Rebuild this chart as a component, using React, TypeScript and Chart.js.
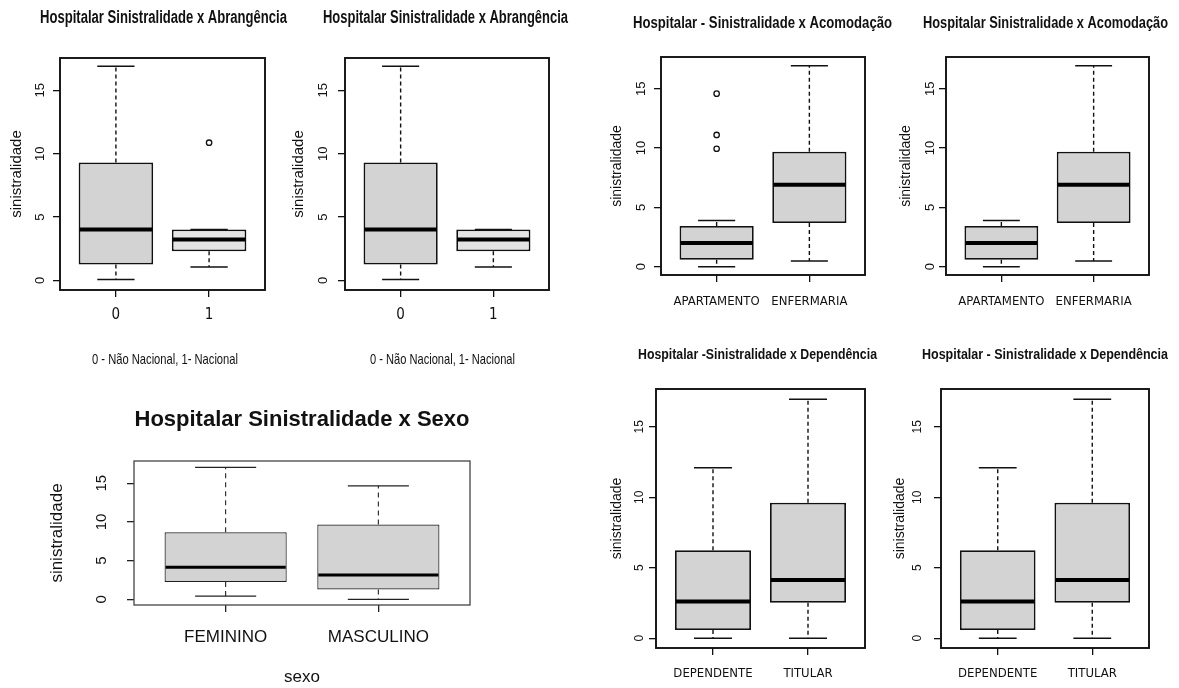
import React, { useEffect, useRef } from "react";
import { Chart, registerables } from "chart.js";

Chart.register(...registerables);

// ---------------- data ----------------
const yTickValues = [0, 5, 10, 15];

const abrangCats = ["0", "1"];
const abrangLow = [0.08, 1.07];
const abrangQ1 = [1.26, 2.31];
const abrangMedian = [4.03, 3.24];
const abrangQ3 = [9.31, 4.03];
const abrangHigh = [16.89, 4.03];
const abrangOutliers = [[], [10.87]];

const acomodCats = ["APARTAMENTO", "ENFERMARIA"];
const acomodLow = [0, 0.48];
const acomodQ1 = [0.59, 3.68];
const acomodMedian = [2.0, 6.91];
const acomodQ3 = [3.43, 9.69];
const acomodHigh = [3.9, 16.94];
const acomodOutliers = [[14.58, 11.1, 9.94], []];

const sexoCats = ["FEMININO", "MASCULINO"];
const sexoLow = [0.43, 0];
const sexoQ1 = [2.24, 1.29];
const sexoMedian = [4.14, 3.14];
const sexoQ3 = [8.67, 9.66];
const sexoHigh = [17.05, 14.66];
const sexoOutliers = [[], []];

const dependCats = ["DEPENDENTE", "TITULAR"];
const dependLow = [0, 0];
const dependQ1 = [0.59, 2.52];
const dependMedian = [2.6, 4.13];
const dependQ3 = [6.24, 9.62];
const dependHigh = [12.1, 16.95];
const dependOutliers = [[], []];

// ---------------- types / styles ----------------
type Stats = {
  cats: string[];
  low: number[];
  q1: number[];
  median: number[];
  q3: number[];
  high: number[];
  outliers: number[][];
};

type FontCfg = { family: string; size: number; weight?: string };

interface PanelCfg {
  canvas: { left: number; top: number; width: number; height: number };
  plot: { left: number; top: number; right: number; bottom: number };
  yRange: [number, number];
  stats: Stats;
  showOutliers: boolean;
  title: string;
  titleFont: FontCfg;
  titleY: number;
  titleCx?: number;
  titleW?: number;
  yTitle: string;
  yTitleFont: FontCfg;
  yTitleX: number;
  yTickFont: FontCfg;
  yTickX: number;
  xTickFont: FontCfg;
  xTickY: number;
  xTitle?: string;
  xTitleFont: FontCfg;
  xTitleY: number;
  xTitleCx?: number;
  xTitleW?: number;
  fills: string[];
  lineColor: string;
  boxLineWidth: number;
  medianWidth: number;
  whiskerWidth: number;
  frameWidth: number;
  frameColor: string;
  dash: number[];
}

const COND = "'DejaVu Sans Condensed', 'Liberation Sans Narrow', 'Arial Narrow', sans-serif";
const SANS = "'Liberation Sans', Arial, sans-serif";

const abrangStats: Stats = { cats: abrangCats, low: abrangLow, q1: abrangQ1, median: abrangMedian, q3: abrangQ3, high: abrangHigh, outliers: abrangOutliers };
const acomodStats: Stats = { cats: acomodCats, low: acomodLow, q1: acomodQ1, median: acomodMedian, q3: acomodQ3, high: acomodHigh, outliers: acomodOutliers };
const sexoStats: Stats = { cats: sexoCats, low: sexoLow, q1: sexoQ1, median: sexoMedian, q3: sexoQ3, high: sexoHigh, outliers: sexoOutliers };
const dependStats: Stats = { cats: dependCats, low: dependLow, q1: dependQ1, median: dependMedian, q3: dependQ3, high: dependHigh, outliers: dependOutliers };

const topStyle = {
  lineColor: "#111",
  boxLineWidth: 1.8,
  medianWidth: 4,
  whiskerWidth: 1.4,
  frameWidth: 1.9,
  frameColor: "#111",
  dash: [4, 3],
};

const panels: PanelCfg[] = [
  {
    ...topStyle,
    canvas: { left: 0, top: 0, width: 292, height: 380 },
    plot: { left: 60, top: 58, right: 265, bottom: 290 },
    yRange: [-0.75, 17.55],
    stats: abrangStats,
    showOutliers: true,
    title: "Hospitalar Sinistralidade x Abrangência",
    titleFont: { family: SANS, size: 18, weight: "bold" },
    titleY: 18,
    titleCx: 163.5,
    titleW: 247,
    yTitle: "sinistralidade",
    yTitleFont: { family: SANS, size: 15 },
    yTitleX: 16.5,
    yTickFont: { family: SANS, size: 13 },
    yTickX: 40,
    xTickFont: { family: COND, size: 15 },
    xTickY: 315,
    xTitle: "0 - Não Nacional, 1- Nacional",
    xTitleFont: { family: SANS, size: 15 },
    xTitleY: 360,
    xTitleCx: 165,
    xTitleW: 146,
    fills: ["#d3d3d3", "#e4e4e4"],
  },
  {
    ...topStyle,
    canvas: { left: 285, top: 0, width: 295, height: 380 },
    plot: { left: 345, top: 58, right: 549, bottom: 290 },
    yRange: [-0.75, 17.55],
    stats: abrangStats,
    showOutliers: false,
    title: "Hospitalar Sinistralidade x Abrangência",
    titleFont: { family: SANS, size: 18, weight: "bold" },
    titleY: 18,
    titleCx: 445.5,
    titleW: 245,
    yTitle: "sinistralidade",
    yTitleFont: { family: SANS, size: 15 },
    yTitleX: 299,
    yTickFont: { family: SANS, size: 13 },
    yTickX: 323,
    xTickFont: { family: COND, size: 15 },
    xTickY: 315,
    xTitle: "0 - Não Nacional, 1- Nacional",
    xTitleFont: { family: SANS, size: 15 },
    xTitleY: 360,
    xTitleCx: 442.5,
    xTitleW: 145,
    fills: ["#d3d3d3", "#e4e4e4"],
  },
  {
    ...topStyle,
    canvas: { left: 590, top: 0, width: 310, height: 325 },
    plot: { left: 661, top: 57, right: 865, bottom: 275 },
    yRange: [-0.7, 17.67],
    stats: acomodStats,
    showOutliers: true,
    title: "Hospitalar - Sinistralidade x Acomodação",
    titleFont: { family: SANS, size: 16, weight: "bold" },
    titleY: 24,
    titleCx: 762.5,
    titleW: 259,
    yTitle: "sinistralidade",
    yTitleFont: { family: SANS, size: 14 },
    yTitleX: 617,
    yTickFont: { family: SANS, size: 13 },
    yTickX: 641,
    xTickFont: { family: COND, size: 13 },
    xTickY: 302,
    xTitleFont: { family: COND, size: 13 },
    xTitleY: 320,
    fills: ["#d3d3d3", "#d3d3d3"],
  },
  {
    ...topStyle,
    canvas: { left: 880, top: 0, width: 299, height: 325 },
    plot: { left: 946, top: 57, right: 1149, bottom: 275 },
    yRange: [-0.7, 17.67],
    stats: acomodStats,
    showOutliers: false,
    title: "Hospitalar Sinistralidade x Acomodação",
    titleFont: { family: SANS, size: 16, weight: "bold" },
    titleY: 24,
    titleCx: 1045.5,
    titleW: 245,
    yTitle: "sinistralidade",
    yTitleFont: { family: SANS, size: 14 },
    yTitleX: 906,
    yTickFont: { family: SANS, size: 13 },
    yTickX: 930,
    xTickFont: { family: COND, size: 13 },
    xTickY: 302,
    xTitleFont: { family: COND, size: 13 },
    xTitleY: 320,
    fills: ["#d3d3d3", "#d3d3d3"],
  },
  {
    lineColor: "#222",
    boxLineWidth: 1.2,
    medianWidth: 3,
    whiskerWidth: 1.1,
    frameWidth: 1.3,
    frameColor: "#444",
    dash: [5, 4],
    canvas: { left: 0, top: 385, width: 560, height: 303 },
    plot: { left: 134, top: 461, right: 470, bottom: 605 },
    yRange: [-0.72, 17.87],
    stats: sexoStats,
    showOutliers: false,
    title: "Hospitalar Sinistralidade x Sexo",
    titleFont: { family: SANS, size: 22, weight: "bold" },
    titleY: 420,
    yTitle: "sinistralidade",
    yTitleFont: { family: SANS, size: 17 },
    yTitleX: 57,
    yTickFont: { family: SANS, size: 15 },
    yTickX: 102,
    xTickFont: { family: SANS, size: 17 },
    xTickY: 637,
    xTitle: "sexo",
    xTitleFont: { family: SANS, size: 17 },
    xTitleY: 679,
    fills: ["#d3d3d3", "#d3d3d3"],
  },
  {
    ...topStyle,
    canvas: { left: 590, top: 330, width: 290, height: 358 },
    plot: { left: 656, top: 389, right: 865, bottom: 648 },
    yRange: [-0.69, 17.68],
    stats: dependStats,
    showOutliers: false,
    title: "Hospitalar -Sinistralidade x Dependência",
    titleFont: { family: SANS, size: 15, weight: "bold" },
    titleY: 355,
    titleCx: 757.5,
    titleW: 239,
    yTitle: "sinistralidade",
    yTitleFont: { family: SANS, size: 14 },
    yTitleX: 617,
    yTickFont: { family: SANS, size: 12 },
    yTickX: 640,
    xTickFont: { family: COND, size: 13 },
    xTickY: 674,
    xTitleFont: { family: COND, size: 13 },
    xTitleY: 688,
    fills: ["#d3d3d3", "#d3d3d3"],
  },
  {
    ...topStyle,
    canvas: { left: 880, top: 330, width: 299, height: 358 },
    plot: { left: 941, top: 389, right: 1149, bottom: 648 },
    yRange: [-0.69, 17.68],
    stats: dependStats,
    showOutliers: false,
    title: "Hospitalar - Sinistralidade x Dependência",
    titleFont: { family: SANS, size: 15, weight: "bold" },
    titleY: 355,
    titleCx: 1045,
    titleW: 246,
    yTitle: "sinistralidade",
    yTitleFont: { family: SANS, size: 14 },
    yTitleX: 900,
    yTickFont: { family: SANS, size: 12 },
    yTickX: 918,
    xTickFont: { family: COND, size: 13 },
    xTickY: 674,
    xTitleFont: { family: COND, size: 13 },
    xTitleY: 688,
    fills: ["#d3d3d3", "#d3d3d3"],
  },
];

function measureText(font: string, text: string): number {
  const ctx = document.createElement("canvas").getContext("2d");
  if (!ctx) return text.length * 7;
  ctx.font = font;
  return ctx.measureText(text).width;
}

function boxPlugin(c: PanelCfg) {
  return {
    id: "boxExtras",
    afterLayout(chart: any) {
      // narrow the title blocks so that the library's own maxWidth squeezes the text
      const tb = chart.titleBlock;
      if (tb && c.titleCx !== undefined && c.titleW !== undefined) {
        const cx = c.titleCx - c.canvas.left;
        tb.left = cx - c.titleW / 2;
        tb.right = cx + c.titleW / 2;
      }
      if (c.xTitleCx !== undefined && c.xTitleW !== undefined) {
        const sb = (chart.boxes || []).find(
          (b: any) => b !== tb && typeof b._drawArgs === "function" && b.options && b.options.position === "bottom"
        );
        if (sb) {
          const cx = c.xTitleCx - c.canvas.left;
          sb.left = cx - c.xTitleW / 2;
          sb.right = cx + c.xTitleW / 2;
        }
      }
    },
    afterDatasetsDraw(chart: any) {
      const ctx: CanvasRenderingContext2D = chart.ctx;
      const ys = chart.scales.y;
      const meta = chart.getDatasetMeta(0);
      const s = c.stats;
      const line = (x1: number, y1: number, x2: number, y2: number) => {
        ctx.beginPath();
        ctx.moveTo(x1, y1);
        ctx.lineTo(x2, y2);
        ctx.stroke();
      };
      ctx.save();
      ctx.strokeStyle = c.lineColor;
      meta.data.forEach((bar: any, i: number) => {
        const x = bar.x;
        const half = bar.width / 2;
        const pLo = ys.getPixelForValue(s.low[i]);
        const pQ1 = ys.getPixelForValue(s.q1[i]);
        const pMed = ys.getPixelForValue(s.median[i]);
        const pQ3 = ys.getPixelForValue(s.q3[i]);
        const pHi = ys.getPixelForValue(s.high[i]);
        ctx.lineWidth = c.whiskerWidth;
        ctx.setLineDash(c.dash);
        if (pHi < pQ3) line(x, pQ3, x, pHi);
        if (pLo > pQ1) line(x, pQ1, x, pLo);
        ctx.setLineDash([]);
        ctx.lineWidth = c.whiskerWidth + 0.1;
        line(x - half / 2, pHi, x + half / 2, pHi);
        line(x - half / 2, pLo, x + half / 2, pLo);
        ctx.lineWidth = c.medianWidth;
        ctx.strokeStyle = "#000";
        line(x - half + 1, pMed, x + half - 1, pMed);
        ctx.strokeStyle = c.lineColor;
        if (c.showOutliers) {
          ctx.lineWidth = 1.3;
          (s.outliers[i] || []).forEach((v) => {
            ctx.beginPath();
            ctx.arc(x, ys.getPixelForValue(v), 2.7, 0, Math.PI * 2);
            ctx.stroke();
          });
        }
      });
      const a = chart.chartArea;
      ctx.lineWidth = c.frameWidth;
      ctx.strokeStyle = c.frameColor;
      ctx.strokeRect(a.left, a.top, a.right - a.left, a.bottom - a.top);
      ctx.restore();
    },
  };
}

function Panel({ cfg }: { cfg: PanelCfg }) {
  const ref = useRef<HTMLCanvasElement>(null);
  useEffect(() => {
    const c = cfg;
    const cv = c.canvas;
    const plot = c.plot;
    const H = cv.height;
    const tickLen = 7;
    const yAxisWidth = plot.left - cv.left;
    const padRight = cv.left + cv.width - plot.right;
    const titleLh = c.titleFont.size * 1.2;
    const titlePadTop = c.titleY - cv.top - titleLh / 2;
    const titlePadBottom = plot.top - cv.top - titlePadTop - titleLh;
    const yTitleLh = c.yTitleFont.size * 1.2;
    const yTitlePad = c.yTitleX - cv.left - yTitleLh / 2;
    const yTickFontStr = `${c.yTickFont.size}px ${c.yTickFont.family}`;
    const widest = Math.max(...yTickValues.map((v) => measureText(yTickFontStr, String(v))));
    const yTickPad = Math.max(0, plot.left - c.yTickX - tickLen - widest / 2);
    const xTickLh = c.xTickFont.size * 1.2;
    const xTickPad = c.xTickY - plot.bottom - tickLen - xTickLh / 2;
    const xTitleLh = c.xTitleFont.size * 1.2;
    const xTitleLocalY = c.xTitleY - cv.top;
    const xTitlePad = Math.max(0, H - xTitleLocalY - xTitleLh / 2);
    const useSub = !!c.xTitle && c.xTitleW !== undefined;
    const subHeight = useSub ? xTitleLh + xTitlePad : 0;
    const xAxisHeight = cv.top + H - plot.bottom - subHeight;
    const s = c.stats;
    const data = s.cats.map((_, i) => ({ x: i + 1, y: [s.q1[i], s.q3[i]] }));

    const chart = new Chart(ref.current as HTMLCanvasElement, {
      type: "bar",
      data: {
        datasets: [
          {
            data: data as any,
            backgroundColor: c.fills,
            borderColor: c.lineColor,
            borderWidth: c.boxLineWidth,
            borderSkipped: false,
            categoryPercentage: 0.8,
            barPercentage: 1,
          } as any,
        ],
      },
      options: {
        responsive: false,
        animation: false,
        events: [],
        layout: { padding: { left: 0, top: 0, right: padRight, bottom: 0 }, autoPadding: false },
        plugins: {
          legend: { display: false },
          tooltip: { enabled: false },
          title: {
            display: true,
            text: c.title,
            fullSize: false,
            color: "#111",
            font: { family: c.titleFont.family, size: c.titleFont.size, weight: (c.titleFont.weight || "normal") as any },
            padding: { top: titlePadTop, bottom: titlePadBottom },
          },
          subtitle: {
            display: useSub,
            text: useSub ? (c.xTitle as string) : "",
            position: "bottom",
            fullSize: false,
            color: "#111",
            font: { family: c.xTitleFont.family, size: c.xTitleFont.size, weight: "normal" as any },
            padding: { top: 0, bottom: xTitlePad },
          },
        },
        scales: {
          x: {
            type: "linear",
            min: 0.4,
            max: 2.6,
            offset: false,
            bounds: "data",
            afterBuildTicks: (sc: any) => {
              sc.ticks = s.cats.map((_, i) => ({ value: i + 1 }));
            },
            afterFit: (sc: any) => {
              sc.height = xAxisHeight;
            },
            ticks: {
              autoSkip: false,
              maxRotation: 0,
              minRotation: 0,
              padding: xTickPad,
              color: "#111",
              font: { family: c.xTickFont.family, size: c.xTickFont.size },
              callback: (v: any) => s.cats[Math.round(Number(v)) - 1] ?? "",
            },
            grid: { drawOnChartArea: false, drawTicks: true, tickLength: tickLen, color: c.lineColor, lineWidth: 1.3, offset: false },
            border: { display: false },
            title: {
              display: !!c.xTitle && !useSub,
              text: c.xTitle || "",
              color: "#111",
              font: { family: c.xTitleFont.family, size: c.xTitleFont.size },
              padding: { top: 0, bottom: xTitlePad },
            },
          } as any,
          y: {
            type: "linear",
            min: c.yRange[0],
            max: c.yRange[1],
            bounds: "data",
            afterBuildTicks: (sc: any) => {
              sc.ticks = yTickValues.map((v) => ({ value: v }));
            },
            afterFit: (sc: any) => {
              sc.width = yAxisWidth;
            },
            ticks: {
              autoSkip: false,
              minRotation: 90,
              maxRotation: 90,
              crossAlign: "center",
              padding: yTickPad,
              color: "#111",
              font: { family: c.yTickFont.family, size: c.yTickFont.size },
              callback: (v: any) => String(v),
            },
            grid: { drawOnChartArea: false, drawTicks: true, tickLength: tickLen, color: c.lineColor, lineWidth: 1.3 },
            border: { display: false },
            title: {
              display: true,
              text: c.yTitle,
              color: "#111",
              font: { family: c.yTitleFont.family, size: c.yTitleFont.size },
              padding: { top: yTitlePad, bottom: 0 },
            },
          } as any,
        },
      },
      plugins: [boxPlugin(c)],
    });
    return () => chart.destroy();
  }, [cfg]);

  return (
    <canvas
      ref={ref}
      width={cfg.canvas.width}
      height={cfg.canvas.height}
      style={{
        position: "absolute",
        left: cfg.canvas.left,
        top: cfg.canvas.top,
        width: cfg.canvas.width,
        height: cfg.canvas.height,
      }}
    />
  );
}

export default function App() {
  return (
    <div
      style={{
        position: "absolute",
        left: 0,
        top: 0,
        width: 1179,
        height: 688,
        background: "#ffffff",
        overflow: "hidden",
      }}
    >
      {panels.map((p, i) => (
        <Panel key={i} cfg={p} />
      ))}
    </div>
  );
}
